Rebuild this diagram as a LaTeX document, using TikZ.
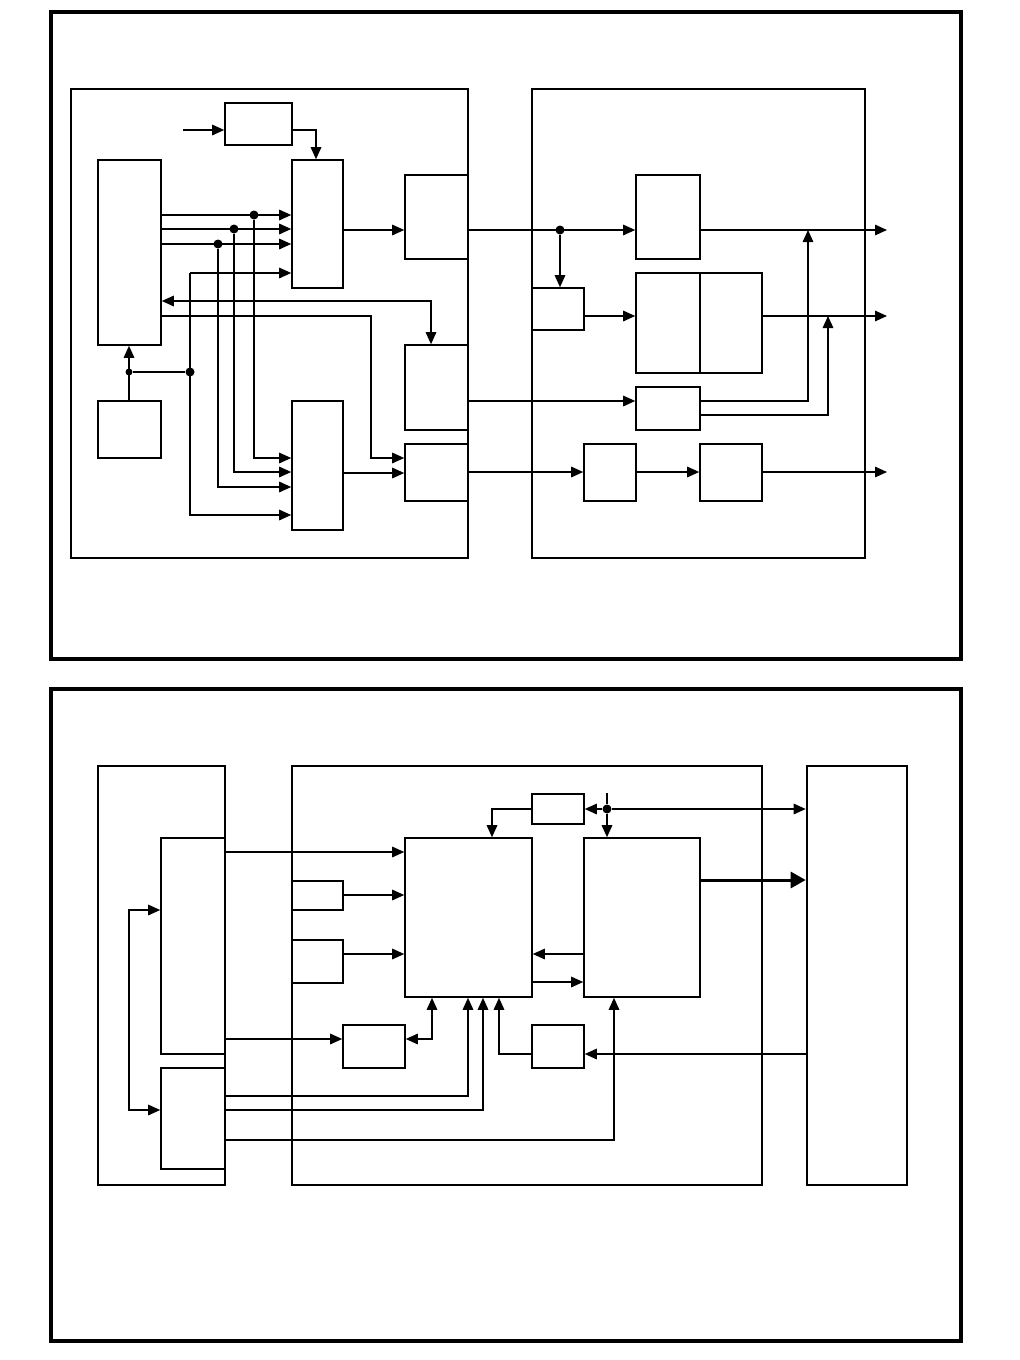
\documentclass[tikz,border=0pt]{standalone}
\usepackage{tikz}
\usetikzlibrary{arrows.meta,positioning,calc}

\begin{document}
\begin{tikzpicture}[x=1pt,y=-1pt,>={Triangle[length=12pt,width=10.5pt]},
  frame/.style={draw,line width=3.2pt,inner sep=0pt},
  unit/.style={draw,line width=2.6pt,inner sep=0pt},
  blk/.style={draw,line width=1.6pt,inner sep=0pt},
  wire/.style={line width=1.5pt},
  dot/.style={circle,fill,inner sep=0pt,minimum size=9pt}]
\useasboundingbox (0,0) rectangle (1020,1360);
\node[frame,minimum width=910pt,minimum height=647pt] (top) at (506,335.5) {};
\node[frame,minimum width=910pt,minimum height=652pt] (bot) at (506,1015) {};
\node[unit,minimum width=397pt,minimum height=469pt] (ua) at (269.5,323.5) {};
\node[unit,minimum width=333pt,minimum height=469pt] (ub) at (698.5,323.5) {};
\node[blk,minimum width=67pt,minimum height=42pt] (t1) at (258.5,124) {};
\node[blk,minimum width=63pt,minimum height=185pt] (l1) at (129.5,252.5) {};
\node[blk,minimum width=51pt,minimum height=128pt] (m1) at (317.5,224) {};
\node[blk,minimum width=63pt,minimum height=84pt] (r1) at (436.5,217) {};
\node[blk,minimum width=63pt,minimum height=85pt] (r2) at (436.5,387.5) {};
\node[blk,minimum width=63pt,minimum height=57pt] (r3) at (436.5,472.5) {};
\node[blk,minimum width=63pt,minimum height=57pt] (l2) at (129.5,429.5) {};
\node[blk,minimum width=51pt,minimum height=129pt] (m2) at (317.5,465.5) {};
\node[blk,minimum width=64pt,minimum height=84pt] (c1) at (668,217) {};
\node[blk,minimum width=52pt,minimum height=42pt] (s1) at (558,309) {};
\node[blk,minimum width=64pt,minimum height=100pt] (c2a) at (668,323) {};
\node[blk,minimum width=62pt,minimum height=100pt] (c2b) at (731,323) {};
\node[blk,minimum width=64pt,minimum height=43pt] (c3) at (668,408.5) {};
\node[blk,minimum width=52pt,minimum height=57pt] (d1) at (610,472.5) {};
\node[blk,minimum width=62pt,minimum height=57pt] (d2) at (731,472.5) {};
\node[dot] (j1) at (254,215) {};
\node[dot] (j2) at (234,229) {};
\node[dot] (j3) at (218,244) {};
\node[dot] (j4) at (190,372) {};
\node[dot,minimum size=7pt] (j5) at (129,372) {};
\node[dot] (j6) at (560,230) {};
\coordinate (tin) at (183,130);
\coordinate (c273) at (190,273);
\coordinate (k1) at (371,458);
\coordinate (u1) at (808,230);
\coordinate (u2) at (828,316);
\coordinate (o1) at (887,230);
\coordinate (o2) at (887,316);
\coordinate (o3) at (887,472);
\draw[wire,->] (tin) -- (t1.west |- tin);
\draw[wire,->] (t1.east |- 0,130) -| (m1.north -| 316,0);
\foreach \y in {215,229,244} \draw[wire,->] (l1.east |- 0,\y) -- (m1.west |- 0,\y);
\draw[wire,->] (j1) |- (m2.west |- 0,458);
\draw[wire,->] (j2) |- (m2.west |- 0,472);
\draw[wire,->] (j3) |- (m2.west |- 0,487);
\draw[wire,->] (c273) -- (m1.west |- c273);
\draw[wire,->] (c273) |- (m2.west |- 0,515);
\draw[wire,->] (l2.north -| j5) -- (l1.south -| j5);
\draw[wire] (j5) -- (j4);
\draw[wire,<->] (l1.east |- 0,301) -| (r2.north -| 431,0);
\draw[wire,->] (l1.east |- 0,316) -| (k1) -- (r3.west |- k1);
\draw[wire,->] (m1.east |- 0,230) -- (r1.west |- 0,230);
\draw[wire,->] (m2.east |- 0,473) -- (r3.west |- 0,473);
\draw[wire,->] (r1.east |- 0,230) -- (c1.west |- 0,230);
\draw[wire,->] (j6) -- (s1.north -| j6);
\draw[wire,->] (s1.east |- 0,316) -- (c2a.west |- 0,316);
\draw[wire,->] (c1.east |- o1) -- (o1);
\draw[wire,->] (c2b.east |- o2) -- (o2);
\draw[wire,->] (r2.east |- 0,401) -- (c3.west |- 0,401);
\draw[wire,->] (c3.east |- 0,401) -| (u1);
\draw[wire,->] (c3.east |- 0,415) -| (u2);
\draw[wire,->] (r3.east |- o3) -- (d1.west |- o3);
\draw[wire,->] (d1.east |- o3) -- (d2.west |- o3);
\draw[wire,->] (d2.east |- o3) -- (o3);
\node[unit,minimum width=127pt,minimum height=419pt] (up) at (161.5,975.5) {};
\node[unit,minimum width=470pt,minimum height=419pt] (uq) at (527,975.5) {};
\node[unit,minimum width=100pt,minimum height=419pt] (uw) at (857,975.5) {};
\node[blk,minimum width=64pt,minimum height=216pt] (p1) at (193,946) {};
\node[blk,minimum width=64pt,minimum height=101pt] (p2) at (193,1118.5) {};
\node[blk,minimum width=127pt,minimum height=159pt] (e) at (468.5,917.5) {};
\node[blk,minimum width=116pt,minimum height=159pt] (f) at (642,917.5) {};
\node[blk,minimum width=52pt,minimum height=30pt] (g) at (558,809) {};
\node[blk,minimum width=51pt,minimum height=29pt] (q1) at (317.5,895.5) {};
\node[blk,minimum width=51pt,minimum height=43pt] (q2) at (317.5,961.5) {};
\node[blk,minimum width=62pt,minimum height=43pt] (h1) at (374,1046.5) {};
\node[blk,minimum width=52pt,minimum height=43pt] (k) at (558,1046.5) {};
\node[dot] (j7) at (607,809) {};
\coordinate (stub) at (607,793);
\coordinate (lp) at (129,1000);
\draw[wire,->] (p1.east |- 0,852) -- (e.west |- 0,852);
\draw[wire,<->] (p1.west |- 0,910) -| (lp) |- (p2.west |- 0,1110);
\draw[wire,->] (q1.east |- 0,895) -- (e.west |- 0,895);
\draw[wire,->] (q2.east |- 0,954) -- (e.west |- 0,954);
\draw[wire] (stub) -- (j7);
\draw[wire,->] (j7) -- (f.north -| j7);
\draw[wire,->] (j7) -- (g.east);
\draw[wire,->] (j7) -- (uw.west |- j7);
\draw[wire,->] (g.west) -| (e.north -| 492,0);
\draw[wire,->] (f.west |- 0,954) -- (e.east |- 0,954);
\draw[wire,->] (e.east |- 0,982) -- (f.west |- 0,982);
\draw[line width=3pt,-{Triangle[length=15pt,width=16pt]}] (f.east |- 0,880) -- (uw.west |- 0,880);
\draw[wire,->] (p1.east |- 0,1039) -- (h1.west |- 0,1039);
\draw[wire,<->] (h1.east |- 0,1039) -| (e.south -| 432,0);
\draw[wire,->] (uw.west |- 0,1054) -- (k.east |- 0,1054);
\draw[wire,->] (k.west |- 0,1054) -| (e.south -| 499,0);
\draw[wire,->] (p2.east |- 0,1096) -| (e.south -| 468,0);
\draw[wire,->] (p2.east |- 0,1110) -| (e.south -| 483,0);
\draw[wire,->] (p2.east |- 0,1140) -| (f.south -| 614,0);
\end{tikzpicture}
\end{document}
